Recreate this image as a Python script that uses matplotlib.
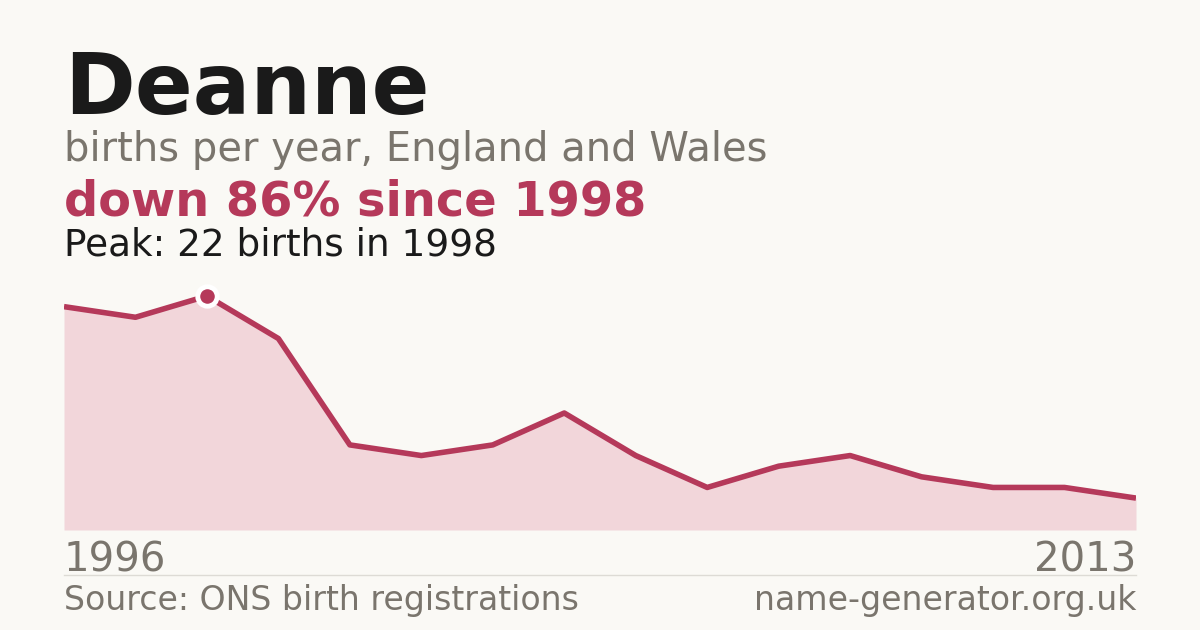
import matplotlib
matplotlib.use('Agg')
import matplotlib.pyplot as plt

# data (births per year, evenly spaced)
years = [1996, 1997, 1998, 1999, 2000, 2001, 2002, 2003, 2004, 2005, 2006, 2007, 2008, 2009, 2010, 2013]
births = [21, 20, 22, 18, 8, 7, 8, 11, 7, 4, 6, 7, 5, 4, 4, 3]
peak_i = 2

W, H = 1200, 630
bg = '#faf9f5'
red = '#b5395a'
fill = '#f2d6da'
grey = '#7a756d'
dark = '#1a1a1a'

fig = plt.figure(figsize=(W/100, H/100), dpi=100, facecolor=bg)

def fx(px): return px / W
def fy(py): return 1 - py / H

ax = fig.add_axes([fx(64), fy(530), fx(1136) - fx(64), (530 - 296) / H])
ax.set_facecolor(bg)
x = list(range(len(births)))
ax.fill_between(x, births, 0, color=fill, lw=0)
ax.plot(x, births, color=red, lw=4, solid_joinstyle='round', solid_capstyle='butt')
ax.plot([x[peak_i]], [births[peak_i]], 'o', ms=14, mfc=red, mec='white', mew=3.5, clip_on=False, zorder=5)
ax.set_xlim(0, len(births) - 1)
ax.set_ylim(0, max(births))
ax.axis('off')

drop = round(100 * (births[peak_i] - births[-1]) / births[peak_i])
fig.text(fx(64), fy(114), 'Deanne', fontsize=61.5, fontweight='bold', color=dark, va='baseline')
fig.text(fx(64), fy(161), 'births per year, England and Wales', fontsize=28.8, color=grey, va='baseline')
fig.text(fx(64), fy(215), 'down {}% since {}'.format(drop, years[peak_i]), fontsize=34.5, fontweight='bold', color=red, va='baseline')
fig.text(fx(64), fy(255), 'Peak: {} births in {}'.format(births[peak_i], years[peak_i]), fontsize=26.9, color=dark, va='baseline')
fig.text(fx(64), fy(571), str(years[0]), fontsize=29, color=grey, va='baseline')
fig.text(fx(1136), fy(571), str(years[-1]), fontsize=29, color=grey, va='baseline', ha='right')
fig.add_artist(plt.Line2D([fx(64), fx(1136)], [fy(574.5), fy(574.5)], color='#dddbd5', lw=1))
fig.text(fx(64), fy(610), 'Source: ONS birth registrations', fontsize=23.9, color=grey, va='baseline')
fig.text(fx(1136), fy(610), 'name-generator.org.uk', fontsize=23.9, color=grey, va='baseline', ha='right')

fig.savefig('out.png', dpi=100, facecolor=bg)
